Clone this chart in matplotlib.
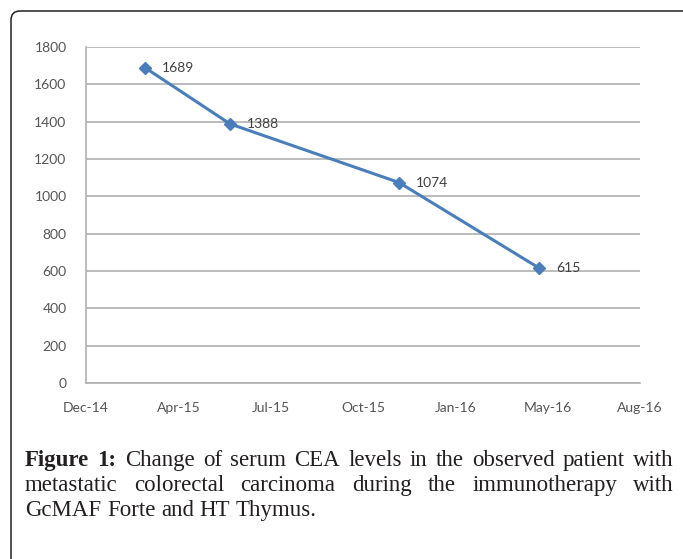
import datetime as dt

import matplotlib
matplotlib.use('Agg')
import matplotlib.pyplot as plt
import matplotlib.dates as mdates
from matplotlib.patches import FancyBboxPatch
from matplotlib.transforms import IdentityTransform

dates = [dt.date(2015, 3, 1), dt.date(2015, 6, 1), dt.date(2015, 12, 1), dt.date(2016, 5, 1)]
cea = [1689, 1388, 1074, 615]

# Excel-style date axis: ticks every 100 days starting at serial 42000
x_start = dt.date(2014, 12, 27)
x_ticks = [x_start + dt.timedelta(days=100 * i) for i in range(7)]
y_ticks = list(range(0, 1801, 200))

caption_lines = [
    'Figure 1: Change of serum CEA levels in the observed patient with',
    'metastatic colorectal carcinoma during the immunotherapy with',
    'GcMAF Forte and HT Thymus.',
]

W, H = 683, 559
fig = plt.figure(figsize=(W / 100, H / 100), dpi=100)

# rounded frame around the whole figure (runs off the bottom/right edge)
frame = FancyBboxPatch((11, -30), 700, H - 11 + 30,
                       boxstyle='round,pad=0,rounding_size=9',
                       transform=IdentityTransform(), fill=False,
                       edgecolor='#222222', linewidth=1.1)
fig.patches.append(frame)

ax = fig.add_axes([86 / W, 1 - 383 / H, (640 - 86) / W, (383 - 47) / H])

grid_col = '#b0b0b0'
tick_col = '#555555'
ax.set_ylim(0, 1800)
ax.set_yticks(y_ticks)
ax.set_xlim(x_ticks[0], x_ticks[-1])
ax.set_xticks(x_ticks)
ax.xaxis.set_major_formatter(mdates.DateFormatter('%b-%y'))
ax.yaxis.grid(True, color=grid_col, linewidth=1.2)
ax.set_axisbelow(True)
for side in ['top', 'right']:
    ax.spines[side].set_visible(False)
for side in ['left', 'bottom']:
    ax.spines[side].set_color(grid_col)
    ax.spines[side].set_linewidth(1.2)
ax.tick_params(axis='both', length=0, labelsize=10, labelcolor=tick_col)
ax.tick_params(axis='y', pad=14)
ax.tick_params(axis='x', pad=14)
for lab in ax.get_xticklabels() + ax.get_yticklabels():
    lab.set_fontfamily('Lato')

ax.plot(dates, cea, color='#4a7ebb', linewidth=2.2, marker='D',
        markersize=6, markerfacecolor='#4a7ebb', markeredgecolor='#4a7ebb',
        solid_capstyle='round', zorder=3)
for d, v in zip(dates, cea):
    ax.annotate(str(v), (mdates.date2num(d), v), xytext=(12, 0),
                textcoords='offset points', ha='left', va='center',
                fontsize=10, family='Lato', color='#404040')

# justified caption, placed word by word
renderer = fig.canvas.get_renderer()
left_px, right_px = 25, 674
baselines = [466, 491, 516]
fsize = 16.5
for i, line in enumerate(caption_lines):
    words = line.split(' ')
    texts = []
    for j, w in enumerate(words):
        bold = (i == 0 and j < 2)
        t = fig.text(0, 0, w, fontsize=fsize, family='Liberation Serif',
                     fontweight='bold' if bold else 'normal',
                     color='#231f20', va='baseline', ha='left')
        texts.append(t)
    widths = [t.get_window_extent(renderer).width for t in texts]
    if i < len(caption_lines) - 1:
        gap = (right_px - left_px - sum(widths)) / (len(words) - 1)
    else:
        gap = fsize * 100 / 72 * 0.25
    x = left_px
    for t, w in zip(texts, widths):
        t.set_position((x / W, 1 - baselines[i] / H))
        x += w + gap

fig.savefig('out.png', dpi=100)
